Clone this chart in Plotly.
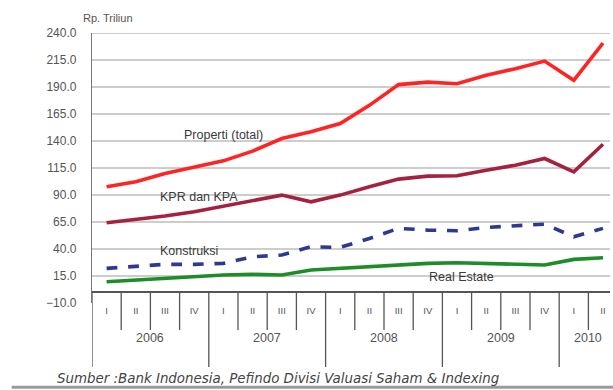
import plotly.graph_objects as go

quarters = ["I", "II", "III", "IV", "I", "II", "III", "IV", "I", "II", "III", "IV",
            "I", "II", "III", "IV", "I", "II"]
years = ["2006", "2007", "2008", "2009", "2010"]
quarters_per_year = [4, 4, 4, 4, 2]

properti_total = [97.6, 102.2, 110.0, 115.5, 121.6, 130.6, 142.3, 148.5, 156.2, 173.0,
                  192.2, 194.5, 193.0, 200.9, 207.0, 214.0, 196.2, 230.7]
kpr_kpa = [64.3, 67.4, 70.5, 74.5, 79.7, 85.3, 89.9, 83.7, 89.9, 97.6,
           104.7, 107.5, 107.8, 113.0, 117.6, 123.8, 111.4, 137.0]
konstruksi = [22.1, 24.2, 25.8, 25.8, 26.7, 32.8, 34.4, 42.1, 41.5, 49.8,
              59.1, 57.5, 56.9, 60.0, 61.5, 63.0, 51.3, 59.1]
real_estate = [9.7, 11.3, 12.9, 14.3, 15.9, 16.5, 15.9, 20.5, 22.1, 24.2,
               25.8, 26.7, 27.3, 26.7, 25.8, 25.2, 30.4, 31.9]

y_ticks = [-10, 15, 40, 65, 90, 115, 140, 165, 190, 215, 240]
y_min, y_max = -10, 240

x = list(range(len(quarters)))

fig = go.Figure()
series = [
    ("Properti (total)", properti_total, "#FF2424", "solid"),
    ("KPR dan KPA", kpr_kpa, "#A5213F", "solid"),
    ("Konstruksi", konstruksi, "#2E3A8E", "dash"),
    ("Real Estate", real_estate, "#1F8C2A", "solid"),
]
for name, vals, color, dash in series:
    fig.add_trace(go.Scatter(x=x, y=vals, mode="lines", name=name,
                             line=dict(color=color, width=3.6, dash=dash)))

shapes = []
# gridlines (skip bottom edge)
for v in y_ticks:
    if v == y_min:
        continue
    shapes.append(dict(type="line", xref="paper", yref="y", x0=0, x1=1, y0=v, y1=v,
                       line=dict(color="#CDCDCD", width=2), layer="below"))
# category separators
zero_paper = (0 - y_min) / (y_max - y_min)
year_starts = []
k = 0
for n in quarters_per_year:
    year_starts.append(k)
    k += n
for i in range(len(quarters) + 1):
    is_year = i in year_starts or i == len(quarters)
    shapes.append(dict(type="line", xref="x", yref="paper", x0=i - 0.5, x1=i - 0.5,
                       y0=zero_paper, y1=-0.237 if is_year else -0.1,
                       line=dict(color="#555555", width=1.3)))
# bottom rule under source
shapes.append(dict(type="line", xref="paper", yref="paper", x0=-0.155, x1=1.02,
                   y0=-0.312, y1=-0.312, line=dict(color="#9A9A9A", width=3)))
fig.update_layout(shapes=shapes)

annotations = []
k = 0
for yr, n in zip(years, quarters_per_year):
    annotations.append(dict(x=k + (n - 1) / 2, y=-0.163, xref="x", yref="paper",
                            text=yr, showarrow=False,
                            font=dict(size=12.5, color="#555555")))
    k += n
labels = [
    ("Properti (total)", 4.0, 145.5),
    ("KPR dan KPA", 3.16, 88),
    ("Konstruksi", 2.82, 38),
    ("Real Estate", 12.17, 14),
]
for t, lx, ly in labels:
    annotations.append(dict(x=lx, y=ly, xref="x", yref="y", text=t, showarrow=False,
                            font=dict(size=12.5, color="#3A3A3A")))
annotations.append(dict(xref="paper", yref="paper", x=(108 - 92) / 518, y=(303 - 18) / 270,
                        xanchor="center", yanchor="middle", showarrow=False,
                        text="Rp. Triliun", font=dict(size=11, color="#555555")))
annotations.append(dict(xref="paper", yref="paper", x=(55 - 92) / 518, y=(303 - 378) / 270,
                        xanchor="left", yanchor="middle", showarrow=False,
                        text="<i>Sumber :Bank Indonesia, Pefindo Divisi Valuasi Saham &amp; Indexing</i>",
                        font=dict(size=13.4, color="#444444",
                                  family="DejaVu Sans, sans-serif")))
fig.update_layout(annotations=annotations)

fig.update_xaxes(range=[-0.5, 17.24], tickvals=x, ticktext=quarters, showgrid=False,
                 zeroline=False, showline=False, ticks="",
                 tickfont=dict(size=9.5, color="#555555"))
fig.update_yaxes(range=[y_min, y_max], tickvals=y_ticks, tickformat=".1f",
                 showgrid=False, zeroline=True, zerolinecolor="#555555", zerolinewidth=1.5,
                 showline=True, linecolor="#777777", linewidth=1.3, ticks="",
                 ticklabelstandoff=12,
                 tickfont=dict(size=12, color="#555555"))

fig.update_layout(
    width=613, height=390,
    margin=dict(l=92, r=3, t=33, b=87),
    plot_bgcolor="white", paper_bgcolor="white",
    showlegend=False,
    font=dict(family="Liberation Sans, Arial, sans-serif"),
)

fig.write_html("out.html", config={"displayModeBar": False},
               post_script="document.body.style.margin='0';document.body.style.overflow='hidden';")
